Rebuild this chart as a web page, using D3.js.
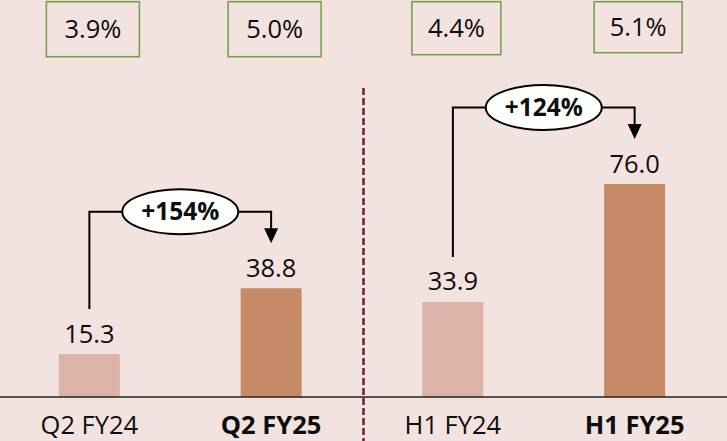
<!DOCTYPE html>
<html>
<head>
<meta charset="utf-8">
<script src="https://cdn.jsdelivr.net/npm/d3@7"></script>
<style>
  body { margin: 0; background: #f3e3e0; }
  svg { display: block; font-family: "Open Sans", sans-serif; }
</style>
</head>
<body>
<div id="chart-area"></div>
<script>
// data
var categories = ["Q2 FY24", "Q2 FY25", "H1 FY24", "H1 FY25"];
var values = [15.3, 38.8, 33.9, 76.0];
var margins = ["3.9%", "5.0%", "4.4%", "5.1%"];
var boldCats = [false, true, false, true];
var growthLabels = ["+154%", "+124%"];   // Q2 pair, H1 pair

var width = 727, height = 441;
var baseY = 397;

var svg = d3.select("#chart-area").append("svg")
    .attr("width", width)
    .attr("height", height);

svg.append("rect").attr("width", width).attr("height", height).attr("fill", "#f3e3e0");

var x = d3.scaleBand()
    .domain(categories)
    .range([-1.5, 725.5])
    .paddingInner(0)
    .paddingOuter(0);

var y = d3.scaleLinear()
    .domain([0, 76])
    .range([baseY, 184]);

var barW = 61;
var cx = function(c) { return x(c) + x.bandwidth() / 2; };

// bars
svg.selectAll("rect.bar").data(categories)
    .enter().append("rect")
    .attr("class", "bar")
    .attr("x", function(d) { return cx(d) - barW / 2; })
    .attr("y", function(d, i) { return y(values[i]); })
    .attr("width", barW)
    .attr("height", function(d, i) { return baseY - y(values[i]); })
    .attr("fill", function(d, i) { return boldCats[i] ? "#c68b66" : "#dbb3a9"; });

// value labels
svg.selectAll("text.val").data(categories)
    .enter().append("text")
    .attr("class", "val")
    .attr("x", function(d) { return cx(d); })
    .attr("y", function(d, i) { return y(values[i]) - 11.5; })
    .attr("text-anchor", "middle")
    .attr("font-size", 25.5)
    .attr("fill", "#0d0d0d")
    .text(function(d, i) { return values[i].toFixed(1); });

// axis line
svg.append("line")
    .attr("x1", 0).attr("x2", width)
    .attr("y1", baseY).attr("y2", baseY)
    .attr("stroke", "#222").attr("stroke-width", 1.5);

// category labels
svg.selectAll("text.cat").data(categories)
    .enter().append("text")
    .attr("class", "cat")
    .attr("x", function(d) { return cx(d); })
    .attr("y", 434)
    .attr("text-anchor", "middle")
    .attr("font-size", 25.5)
    .attr("font-weight", function(d, i) { return boldCats[i] ? "bold" : "normal"; })
    .attr("fill", "#0d0d0d")
    .text(function(d) { return d; });

// divider between quarter and half-year
var midX = (x(categories[1]) + x.bandwidth() + x(categories[2])) / 2 + 1.5;
svg.append("line")
    .attr("x1", midX).attr("x2", midX)
    .attr("y1", 88).attr("y2", height)
    .attr("stroke", "#6e1d3c").attr("stroke-width", 2.5)
    .attr("stroke-dasharray", "7,3");

// margin boxes on top
var boxW = [93, 93, 89, 88], boxH = [55, 55, 53, 51];
var boxes = svg.selectAll("g.box").data(categories)
    .enter().append("g")
    .attr("class", "box")
    .attr("transform", function(d) { return "translate(" + (cx(d) + 3.5) + ",0)"; });
boxes.append("rect")
    .attr("x", function(d, i) { return -boxW[i] / 2; })
    .attr("y", 1.7)
    .attr("width", function(d, i) { return boxW[i]; })
    .attr("height", function(d, i) { return boxH[i]; })
    .attr("fill", "none")
    .attr("stroke", "#76a050")
    .attr("stroke-width", 1.6);
boxes.append("text")
    .attr("x", 0)
    .attr("y", function(d, i) { return 1.7 + boxH[i] / 2 + 9; })
    .attr("text-anchor", "middle")
    .attr("font-size", 25.5)
    .attr("fill", "#0d0d0d")
    .text(function(d, i) { return margins[i]; });

// growth brackets
[[0, 1], [2, 3]].forEach(function(pair, k) {
    var a = categories[pair[0]], b = categories[pair[1]];
    var x1 = cx(a), x2 = cx(b);
    var startY = y(values[pair[0]]) - 45;
    var tipY = y(values[pair[1]]) - 45;
    var topY = tipY - 31.5;
    svg.append("path")
        .attr("d", "M" + x1 + "," + startY + " V" + topY + " H" + x2 + " V" + (tipY - 14))
        .attr("fill", "none")
        .attr("stroke", "#000")
        .attr("stroke-width", 2);
    svg.append("path")
        .attr("d", "M" + (x2 - 7) + "," + (tipY - 15) + " L" + (x2 + 7) + "," + (tipY - 15) + " L" + x2 + "," + tipY + " Z")
        .attr("fill", "#000");
    var ex = (x1 + x2) / 2;
    svg.append("ellipse")
        .attr("cx", ex).attr("cy", topY)
        .attr("rx", 58).attr("ry", 22.5)
        .attr("fill", "#fff")
        .attr("stroke", "#000")
        .attr("stroke-width", 2);
    svg.append("text")
        .attr("x", ex).attr("y", topY + 8.5)
        .attr("text-anchor", "middle")
        .attr("font-size", 24.5)
        .attr("font-weight", "bold")
        .attr("fill", "#0d0d0d")
        .text(growthLabels[k]);
});
</script>
</body>
</html>
